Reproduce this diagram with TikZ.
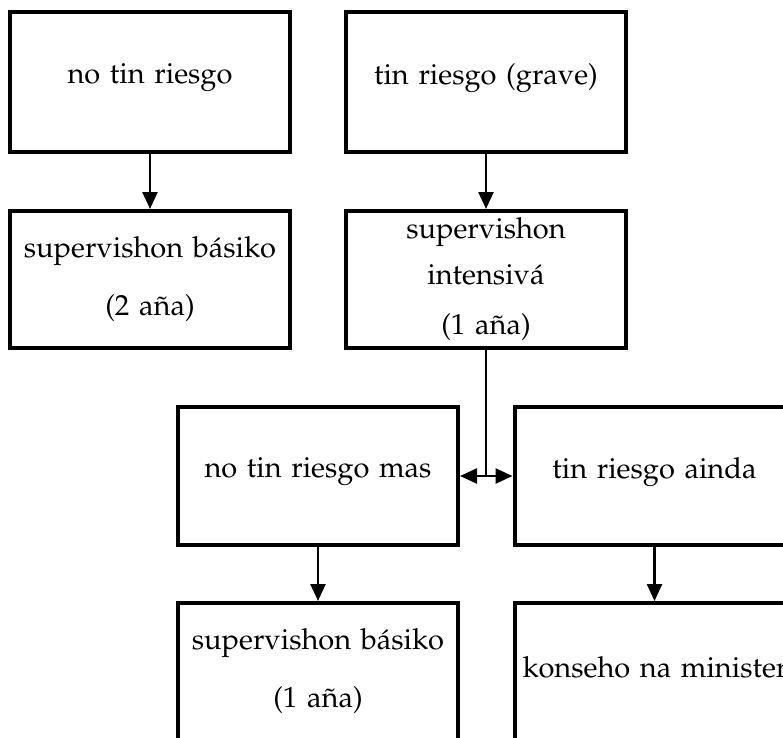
\documentclass[tikz,border=0pt]{standalone}
\usepackage[T1]{fontenc}
\usepackage{mathpazo}
\usepackage{tikz}
\usetikzlibrary{arrows.meta, calc}

\begin{document}
\begin{tikzpicture}[
        x=1pt, y=-1pt,
        box/.style={draw, line width=4pt, text width=264pt, inner xsep=8pt, inner ysep=0pt, align=center, font=\fontsize{29}{38}\selectfont, execute at begin node={\vspace*{8pt}}},
        arr/.style={line width=2.5pt, -{Triangle[length=17pt, width=15pt]}}
    ]
        \useasboundingbox (0,0) rectangle (783,737);

        % Top row
        \node[box, minimum height=140pt] (norisk) at (150, 82) {no tin riesgo};
        \node[box, minimum height=140pt] (risk) at (486, 82) {tin riesgo (grave)};

        % Second row
        \node[box, minimum height=137pt] (basic2) at (150, 279.5) {supervishon básiko\\[12pt](2 aña)};
        \node[box, minimum height=137pt] (intens) at (486, 279.5) {supervishon\\intensivá\\[12pt](1 aña)};

        % Arrows into the second row
        \draw[arr] (norisk.south) -- (basic2.north);
        \draw[arr] (risk.south) -- (intens.north);

        % Third row
        \node[box, minimum height=138pt] (nomas) at (318, 476) {no tin riesgo mas};
        \node[box, minimum height=138pt] (ainda) at (654.5, 476) {tin riesgo ainda};

        % Split below intensive supervision
        \coordinate (split) at (intens.south |- nomas.east);
        \draw[line width=2.5pt] (intens.south) -- (split);
        \draw[arr] (split) -- (nomas.east);
        \draw[arr] (split) -- (ainda.west);

        % Bottom row (cut off by the page)
        \node[box, minimum height=137pt] (basic1) at (318, 671.5) {supervishon básiko\\[12pt](1 aña)};
        \node[box, minimum height=137pt] (minist) at (654.5, 671.5) {\mbox{konseho na ministerio}};

        % Arrows into the bottom row
        \draw[arr] (nomas.south) -- (basic1.north);
        \draw[arr] (ainda.south) -- (minist.north);
\end{tikzpicture}
\end{document}
